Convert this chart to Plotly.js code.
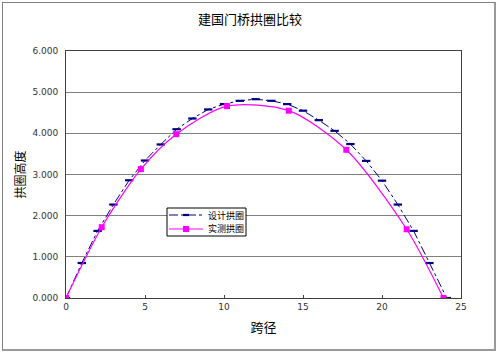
<!DOCTYPE html>
<html>
<head>
<meta charset="utf-8">
<script src="https://cdn.plot.ly/plotly-3.0.1.min.js"></script>
<style>
html,body{margin:0;padding:0;background:#fff;}
#wrap{position:relative;width:500px;height:357px;}
#chart{width:500px;height:357px;}
#frame{position:absolute;left:2px;top:2px;width:494px;height:349px;border:1px solid #808080;border-right:2px solid #9a9a9a;border-bottom:2px solid #9a9a9a;pointer-events:none;box-sizing:border-box;}
</style>
</head>
<body>
<div id="wrap"><div id="chart"></div><div id="frame"></div></div>
<script>
const designX = [0,1,2,3,4,5,6,7,8,9,10,11,12,13,14,15,16,17,18,19,20,21,22,23,24.1];
const designY = [0,0.85,1.63,2.27,2.86,3.34,3.73,4.10,4.36,4.58,4.71,4.79,4.83,4.79,4.71,4.55,4.32,4.06,3.74,3.33,2.85,2.27,1.63,0.85,0];
const measuredX = [0,2.26,4.74,6.98,10.19,14.1,17.74,21.56,23.89];
const measuredY = [0,1.72,3.13,3.98,4.66,4.55,3.60,1.67,0];
const seriesNames = ['设计拱圈','实测拱圈'];
const yTicks = [0,1,2,3,4,5,6];
const xTicks = [0,5,10,15,20,25];

const cjk = '"Noto Sans CJK SC", "DejaVu Sans", sans-serif';
const navy = '#000080', pink = '#ff00ff';

const traces = [
  {
    x: designX, y: designY, name: seriesNames[0], type: 'scatter', mode: 'lines+markers',
    line: {color: navy, width: 1, dash: 'dashdot'},
    marker: {symbol: 'line-ew', size: 6, color: navy, line: {color: navy, width: 2.2}}
  },
  {
    x: measuredX, y: measuredY, name: seriesNames[1], type: 'scatter', mode: 'lines+markers',
    line: {color: pink, width: 1.2, shape: 'spline', smoothing: 0.8},
    marker: {symbol: 'square', size: 6, color: pink}
  }
];

// custom compact legend (paper coordinates derived from pixel layout)
const L = 66, T = 51, W = 500 - 66 - 39, H = 357 - 51 - 59;
const px = p => (p - L) / W;
const py = q => (T + H - q) / H;
const rows = [
  {name: seriesNames[0], y: 215, color: navy, dash: 'dashdot', w: 1},
  {name: seriesNames[1], y: 229, color: pink, dash: 'solid', w: 1.2}
];
const shapes = [
  {type: 'rect', xref: 'paper', yref: 'paper', x0: px(167), x1: px(246), y0: py(236), y1: py(208),
   fillcolor: '#ffffff', line: {color: '#000000', width: 1}, layer: 'above'}
];
const annotations = [];
rows.forEach((r, i) => {
  shapes.push({type: 'line', xref: 'paper', yref: 'paper', x0: px(169), x1: px(203), y0: py(r.y), y1: py(r.y),
    line: {color: r.color, width: r.w, dash: r.dash}, layer: 'above'});
  if (i === 0) {
    shapes.push({type: 'line', xref: 'paper', yref: 'paper', x0: px(183), x1: px(189), y0: py(r.y), y1: py(r.y),
      line: {color: navy, width: 2.2}, layer: 'above'});
  } else {
    shapes.push({type: 'rect', xref: 'paper', yref: 'paper', x0: px(183), x1: px(189), y0: py(r.y + 3), y1: py(r.y - 3),
      fillcolor: pink, line: {width: 0}, layer: 'above'});
  }
  annotations.push({text: r.name, xref: 'paper', yref: 'paper', x: px(206), y: py(r.y), xanchor: 'left', yanchor: 'middle',
    showarrow: false, font: {family: cjk, size: 9, color: '#000'}});
});

const layout = {
  width: 500, height: 357,
  margin: {l: L, r: 39, t: T, b: 59},
  paper_bgcolor: '#ffffff', plot_bgcolor: '#ffffff',
  showlegend: false,
  title: {text: '建国门桥拱圈比较', x: 0.5, xanchor: 'center', y: 0.945, yanchor: 'middle',
          font: {family: cjk, size: 13, color: '#000'}},
  xaxis: {
    range: [0, 25], tickvals: xTicks, ticktext: xTicks.map(String),
    showgrid: false, zeroline: false,
    showline: true, linecolor: '#404040', linewidth: 1, mirror: true,
    ticks: 'inside', ticklen: 3, tickcolor: '#404040',
    tickfont: {family: '"DejaVu Sans", sans-serif', size: 9, color: '#333'},
    title: {text: '跨径', font: {family: cjk, size: 13, color: '#000'}, standoff: 12}
  },
  yaxis: {
    range: [0, 6], tickvals: yTicks, tickformat: '.3f',
    showgrid: true, gridcolor: '#808080', gridwidth: 1, zeroline: false,
    showline: true, linecolor: '#404040', linewidth: 1, mirror: true,
    ticks: '', ticklabelstandoff: 5,
    tickfont: {family: '"DejaVu Sans", sans-serif', size: 9, color: '#333'},
    title: {text: '拱圈高度', font: {family: cjk, size: 12, color: '#000'}, standoff: 4}
  },
  shapes: shapes,
  annotations: annotations
};

Plotly.newPlot('chart', traces, layout, {staticPlot: true, displayModeBar: false});
</script>
</body>
</html>
